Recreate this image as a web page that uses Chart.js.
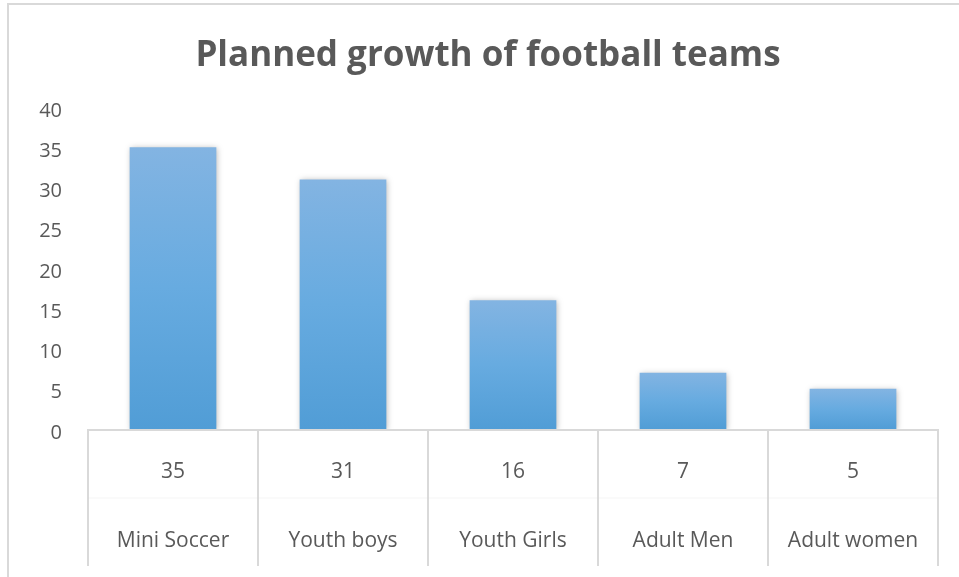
<!DOCTYPE html>
<html>
<head>
<meta charset="utf-8">
<script src="https://cdn.jsdelivr.net/npm/chart.js@4/dist/chart.umd.min.js"></script>
<style>
  html, body { margin: 0; padding: 0; background: #fff; }
  #frame {
    position: absolute; left: 7px; top: 3px; width: 952px; height: 574px;
    border-top: 2px solid #d9d9d9; border-left: 2px solid #d9d9d9; box-sizing: border-box;
  }
  #wrap { position: absolute; left: 0; top: 0; width: 959px; height: 577px; }
</style>
</head>
<body>
<div id="frame"></div>
<div id="wrap"><canvas id="teamsChart"></canvas></div>
<script>
const categories = ['Mini Soccer', 'Youth boys', 'Youth Girls', 'Adult Men', 'Adult women'];
const teamCounts = [35, 31, 16, 7, 5];
const chartTitle = 'Planned growth of football teams';

const textColor = '#595959';
const lineColor = '#d9d9d9';

// per-bar vertical gradient, light at the top
const barFill = (context) => {
  const chart = context.chart;
  const area = chart.chartArea;
  if (!area) return '#5ea5dc';
  const y = chart.scales.y;
  const v = context.parsed ? context.parsed.y : 0;
  const top = y.getPixelForValue(v);
  const bottom = y.getPixelForValue(0);
  if (!isFinite(top) || bottom - top < 1) return '#5ea5dc';
  const g = chart.ctx.createLinearGradient(0, top, 0, bottom);
  g.addColorStop(0, '#83b4e2');
  g.addColorStop(0.5, '#67abe0');
  g.addColorStop(1, '#519dd6');
  return g;
};

const titlePlugin = {
  id: 'titleText',
  afterDraw(chart) {
    const ctx = chart.ctx;
    ctx.save();
    ctx.fillStyle = textColor;
    ctx.font = 'bold 35px "Open Sans"';
    ctx.textAlign = 'center';
    ctx.textBaseline = 'middle';
    ctx.fillText(chartTitle, 488, 56);
    ctx.restore();
  }
};

const shadowPlugin = {
  id: 'barShadow',
  beforeDatasetDraw(chart) {
    const ctx = chart.ctx;
    ctx.save();
    ctx.shadowColor = 'rgba(0,0,0,0.28)';
    ctx.shadowBlur = 6;
    ctx.shadowOffsetX = 1;
    ctx.shadowOffsetY = 1;
  },
  afterDatasetDraw(chart) {
    chart.ctx.restore();
  }
};

// data table under the axis: value row and category row
const tablePlugin = {
  id: 'dataTable',
  afterDraw(chart) {
    const ctx = chart.ctx;
    const area = chart.chartArea;
    const x = chart.scales.x;
    const n = categories.length;
    const w = (area.right - area.left) / n;
    const tableBottom = area.bottom + 137;
    ctx.save();
    ctx.strokeStyle = lineColor;
    ctx.lineWidth = 2;
    ctx.beginPath();
    ctx.moveTo(area.left, area.bottom + 1);
    ctx.lineTo(area.right, area.bottom + 1);
    for (let i = 0; i <= n; i++) {
      const px = Math.round(area.left + i * w);
      ctx.moveTo(px, area.bottom);
      ctx.lineTo(px, tableBottom);
    }
    ctx.stroke();
    ctx.strokeStyle = 'rgba(217,217,217,0.25)';
    ctx.lineWidth = 1;
    ctx.beginPath();
    ctx.moveTo(area.left, area.bottom + 69);
    ctx.lineTo(area.right, area.bottom + 69);
    ctx.stroke();

    ctx.fillStyle = textColor;
    ctx.font = '21px "Open Sans"';
    ctx.textAlign = 'center';
    ctx.textBaseline = 'middle';
    categories.forEach((name, i) => {
      const cx = x.getPixelForValue(i);
      ctx.fillText(String(teamCounts[i]), cx, area.bottom + 43);
      ctx.fillText(name, cx, area.bottom + 112);
    });
    ctx.restore();
  }
};

new Chart(document.getElementById('teamsChart'), {
  type: 'bar',
  data: {
    labels: categories,
    datasets: [{
      data: teamCounts,
      backgroundColor: barFill,
      borderWidth: 0,
      categoryPercentage: 1,
      barPercentage: 0.51
    }]
  },
  options: {
    responsive: true,
    maintainAspectRatio: false,
    animation: false,
    layout: { padding: { left: 0, right: 21, top: 107, bottom: 148 } },
    plugins: {
      legend: { display: false },
      title: { display: false },
      tooltip: { enabled: false }
    },
    scales: {
      x: {
        grid: { display: false, drawTicks: false },
        border: { display: false },
        ticks: { display: false }
      },
      y: {
        min: 0,
        max: 40,
        afterFit(scale) { scale.width = 88; },
        grid: { display: false, drawTicks: false },
        border: { display: false },
        ticks: {
          stepSize: 5,
          padding: 26,
          labelOffset: 4,
          color: textColor,
          font: { family: 'Open Sans', size: 20 }
        }
      }
    }
  },
  plugins: [shadowPlugin, tablePlugin, titlePlugin]
});
</script>
</body>
</html>
